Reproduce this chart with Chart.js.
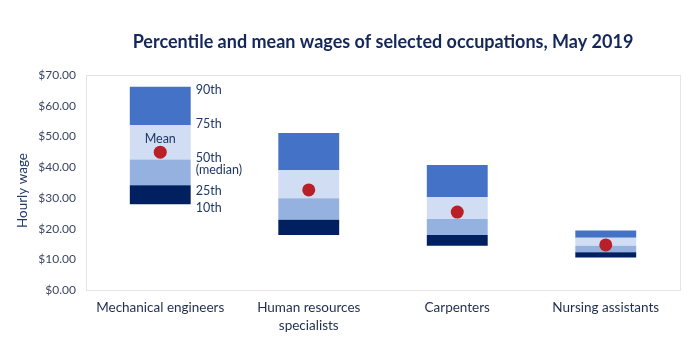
<!DOCTYPE html>
<html>
<head>
<meta charset="utf-8">
<script src="https://cdn.jsdelivr.net/npm/chart.js@4"></script>
<style>
  html, body { margin: 0; padding: 0; background: #fff; }
  #wrap { width: 700px; height: 344px; position: relative; }
</style>
</head>
<body>
<div id="wrap"><canvas id="c" width="700" height="344"></canvas></div>
<script>
const categories = ['Mechanical engineers', ['Human resources', 'specialists'], 'Carpenters', 'Nursing assistants'];
const p10 = [27.9, 17.9, 14.4, 10.6];
const p25 = [34.1, 22.9, 17.9, 12.3];
const p50 = [42.5, 29.9, 23.1, 14.4];
const p75 = [53.7, 39.0, 30.3, 17.0];
const p90 = [66.2, 51.1, 40.7, 19.4];
const meanWage = [44.9, 32.6, 25.4, 14.7];
const yTicks = [0, 10, 20, 30, 40, 50, 60, 70];
const percentileLabels = ['10th', '25th', '50th', '75th', '90th'];
const titleText = 'Percentile and mean wages of selected occupations, May 2019';
const yTitleText = 'Hourly wage';

const FONT = 'Lato, "Open Sans", sans-serif';
const NAVY = '#1f3864';

function band(lo, hi) { return lo.map((v, i) => [v, hi[i]]); }

const annotate = {
  id: 'annotate',
  afterDatasetsDraw(chart) {
    const ctx = chart.ctx;
    const y = chart.scales.y;
    const a = chart.chartArea;
    const meta = chart.getDatasetMeta(0);
    const bar = meta.data[0];
    const lx = bar.x + bar.width / 2 + 5;
    ctx.save();
    // title centred over the plot area
    ctx.fillStyle = '#14275b';
    ctx.font = 'bold 18px ' + FONT;
    ctx.textAlign = 'center';
    ctx.textBaseline = 'middle';
    ctx.fillText(titleText, (a.left + a.right) / 2, 42);

    // y-axis title
    ctx.save();
    ctx.translate(23, (a.top + a.bottom) / 2 + 8);
    ctx.rotate(-Math.PI / 2);
    ctx.fillStyle = NAVY;
    ctx.font = '13.5px ' + FONT;
    ctx.fillText(yTitleText, 0, 0);
    ctx.restore();

    ctx.fillStyle = NAVY;
    ctx.font = '12.5px ' + FONT;
    ctx.textAlign = 'left';
    ctx.fillText(percentileLabels[4], lx, y.getPixelForValue(p90[0]) + 3);
    ctx.fillText(percentileLabels[3], lx, y.getPixelForValue(p75[0]) - 1);
    ctx.fillText(percentileLabels[2], lx, y.getPixelForValue(p50[0]) - 2);
    ctx.fillText('(median)', lx, y.getPixelForValue(p50[0]) + 10);
    ctx.fillText(percentileLabels[1], lx, y.getPixelForValue(p25[0]) + 6);
    ctx.fillText(percentileLabels[0], lx, y.getPixelForValue(p10[0]) + 4);
    ctx.textAlign = 'center';
    ctx.fillText('Mean', bar.x, y.getPixelForValue(meanWage[0]) - 13);
    ctx.restore();
  }
};

const frame = {
  id: 'frame',
  beforeDatasetsDraw(chart) {
    const a = chart.chartArea;
    const ctx = chart.ctx;
    ctx.save();
    ctx.strokeStyle = '#e4e4e4';
    ctx.lineWidth = 1;
    ctx.strokeRect(Math.round(a.left) + 0.5, Math.round(a.top) + 0.5, Math.round(a.right - a.left), Math.round(a.bottom - a.top));
    ctx.restore();
  }
};

const barCommon = { type: 'bar', barPercentage: 0.82, categoryPercentage: 0.5, borderWidth: 0, order: 2 };

new Chart(document.getElementById('c'), {
  data: {
    labels: categories,
    datasets: [
      Object.assign({ label: '10th-25th', data: band(p10, p25), backgroundColor: '#002060' }, barCommon),
      Object.assign({ label: '25th-50th', data: band(p25, p50), backgroundColor: '#95b1df' }, barCommon),
      Object.assign({ label: '50th-75th', data: band(p50, p75), backgroundColor: '#d0ddf2' }, barCommon),
      Object.assign({ label: '75th-90th', data: band(p75, p90), backgroundColor: '#4472c6' }, barCommon),
      { type: 'line', label: 'Mean', data: meanWage, showLine: false, pointRadius: 6.5, pointHoverRadius: 6.5,
        pointBackgroundColor: '#b91f26', pointBorderColor: '#b91f26', pointBorderWidth: 0, order: 1 }
    ]
  },
  options: {
    responsive: false,
    animation: false,
    layout: { padding: { left: 0, right: 20, top: 75, bottom: 0 } },
    plugins: {
      legend: { display: false },
      tooltip: { enabled: false },
      title: { display: false }
    },
    scales: {
      x: {
        stacked: true,
        grid: { display: false, drawTicks: false },
        border: { display: false },
        ticks: { color: '#1f2d4e', font: { family: FONT, size: 13.5, lineHeight: 1.33 }, padding: 9, maxRotation: 0, autoSkip: false }
      },
      y: {
        stacked: false,
        min: 0, max: 70,
        afterBuildTicks(s) { s.ticks = yTicks.map(v => ({ value: v })); },
        grid: { display: false, drawTicks: false },
        border: { display: false },
        ticks: {
          color: '#3b4663',
          font: { family: FONT, size: 12 },
          padding: 10,
          callback: v => '$' + Number(v).toFixed(2)
        },
        title: { display: false },
        afterFit(s) { s.width = 86; }
      }
    }
  },
  plugins: [frame, annotate]
});
</script>
</body>
</html>
